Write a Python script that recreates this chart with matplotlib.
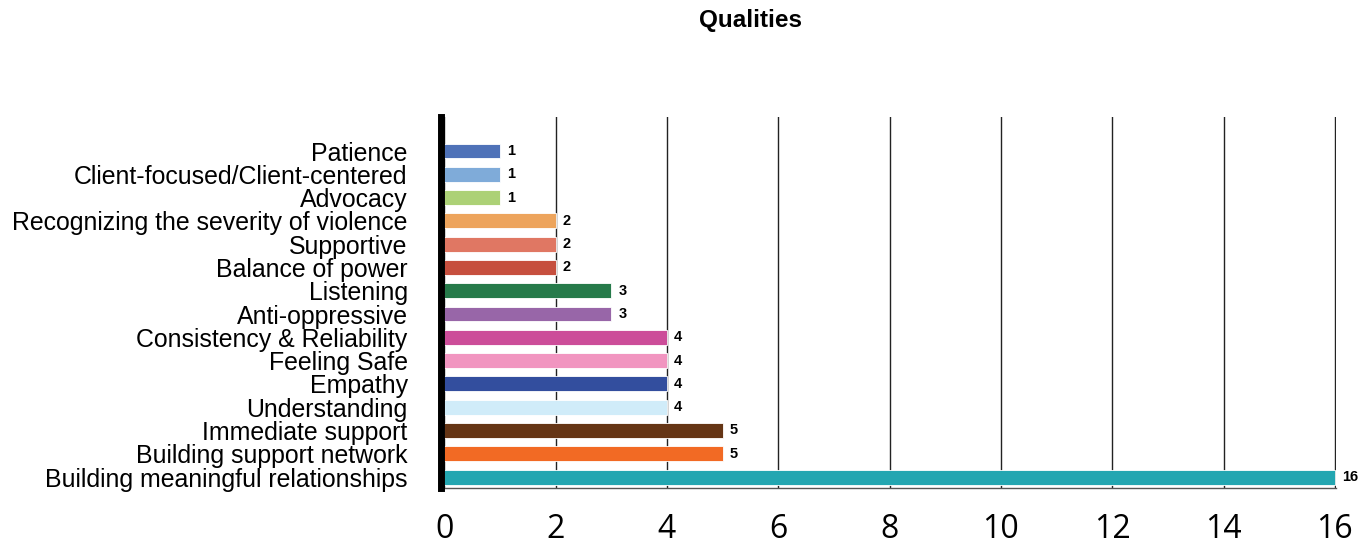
"""
Horizontal bar chart of qualities and how often each was mentioned.
"""

import matplotlib.pyplot as plt

categories = [
    "Building meaningful relationships",
    "Building support network",
    "Immediate support",
    "Understanding",
    "Empathy",
    "Feeling Safe",
    "Consistency & Reliability",
    "Anti-oppressive",
    "Listening",
    "Balance of power",
    "Supportive",
    "Recognizing the severity of violence",
    "Advocacy",
    "Client-focused/Client-centered",
    "Patience",
]
counts = [16, 5, 5, 4, 4, 4, 4, 3, 3, 2, 2, 2, 1, 1, 1]
colors = [
    "#23a6b1", "#f26a24", "#653515", "#d0ecf9", "#334e9e",
    "#f195c0", "#cc4d99", "#9866a8", "#267a4a", "#c64f3e",
    "#e07763", "#eda45c", "#acd176", "#7fabd9", "#4f72b8",
]
xticks = [0, 2, 4, 6, 8, 10, 12, 14, 16]

fig = plt.figure(figsize=(13.72, 5.44), dpi=100)
ax = fig.add_axes([441 / 1372, 1 - 488 / 544, (1336 - 441) / 1372, (488 - 117) / 544])

y = list(range(len(categories)))
bars = ax.barh(y, counts, height=0.64, color=colors, edgecolor="white", linewidth=0.6, zorder=3)

for bar, val in zip(bars, counts):
    ax.annotate(
        f"{val}",
        xy=(bar.get_width(), bar.get_y() + bar.get_height() / 2),
        xytext=(5, 0),
        textcoords="offset points",
        ha="left",
        va="center",
        fontsize=10.5,
        fontweight="bold",
        family="Liberation Sans",
    )

ax.set_xlim(-0.06, 16.02)
ax.set_ylim(-0.47, len(categories) - 1 + 1.46)
ax.set_xticks(xticks)
ax.set_xticklabels([str(t) for t in xticks], family="Open Sans", fontsize=23)
ax.set_yticks(y)
ax.set_yticklabels(categories, family="Liberation Sans", fontsize=17.9)
ax.tick_params(axis="x", length=0, pad=18)
ax.tick_params(axis="y", length=0, pad=24)
ax.grid(axis="x", color="#222222", linewidth=1.0, zorder=1)

for side in ("top", "right"):
    ax.spines[side].set_visible(False)
ax.spines["left"].set_linewidth(5)
ax.spines["left"].set_color("black")
ax.spines["left"].set_zorder(4)
ax.spines["bottom"].set_linewidth(1.0)
ax.spines["bottom"].set_color("#555555")

fig.text(750 / 1372, 1 - 21 / 544, "Qualities", ha="center", va="center",
         fontsize=17.5, fontweight="bold", family="Liberation Sans")

fig.savefig("out.png", dpi=100)
plt.close(fig)
